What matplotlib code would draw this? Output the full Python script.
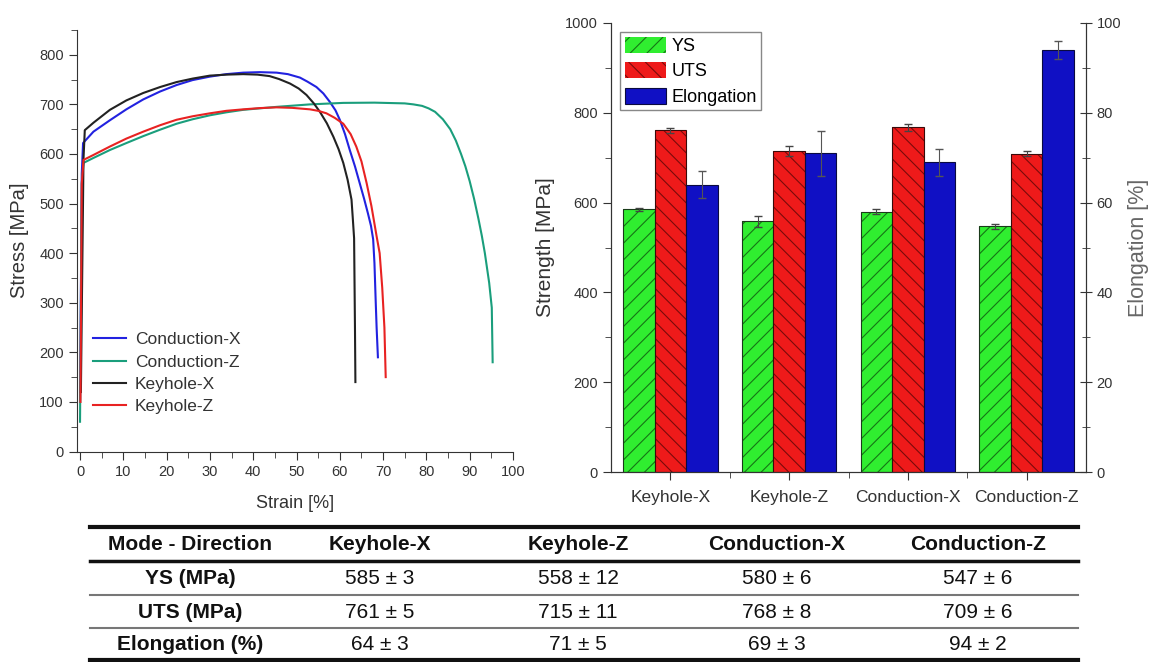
import numpy as np
import matplotlib.pyplot as plt
from matplotlib.lines import Line2D
from matplotlib.ticker import MultipleLocator, FixedLocator

plt.rcParams['font.family'] = ['Liberation Sans', 'DejaVu Sans']
plt.rcParams['hatch.linewidth'] = 0.8

# 应力-应变曲线
cx_strain = [0.0, 0.4, 0.7, 3.1, 6.9, 10.7, 14.6, 18.5, 22.3, 26, 30, 33.8, 37.7, 41.5, 45.4, 48, 50.8, 52.5,
             54.6, 56.2, 57.7, 59, 60, 61.2, 62.3, 63.5, 64.6, 65.6, 66.5, 67.2, 67.7, 68.0, 68.3, 68.5, 68.8]
cx_stress = [100, 560, 622, 645, 668, 690, 710, 726, 739, 749, 756, 761, 764, 765, 764, 761, 754, 746,
             735, 722, 705, 688, 669, 640, 608, 575, 541, 510, 480, 455, 428, 380, 300, 250, 190]

cz_strain = [0.0, 0.4, 0.8, 3.1, 6.9, 10.7, 14.6, 18.5, 22.3, 26, 30, 33.8, 37.7, 41.5, 45.4, 53.1, 60.8, 68,
             75, 77, 79, 80.5, 82, 83.8, 85.5, 86.8, 88, 89, 90, 91, 92, 92.8, 93.5, 94, 94.5, 94.8, 95.1, 95.3]
cz_stress = [60, 540, 582, 592, 608, 622, 636, 649, 661, 670, 678, 684, 689, 692, 695, 700, 703, 703.5,
             702, 700, 697, 692, 685, 670, 650, 627, 600, 575, 545, 510, 470, 435, 400, 370, 340, 315, 290, 180]

kx_strain = [0.2, 0.8, 1.1, 3.1, 6.9, 10.7, 14.6, 18.5, 22.3, 26, 30, 33.8, 37.7, 41, 43.8, 46, 48.5, 50.5,
             52.3, 54, 55.4, 57, 58.5, 59.7, 60.8, 61.8, 62.7, 63.0, 63.3, 63.5, 63.6]
kx_stress = [120, 590, 648, 663, 689, 708, 723, 735, 745, 752, 758, 760, 761, 760, 757, 751, 742, 732,
             719, 702, 685, 662, 635, 610, 582, 548, 508, 470, 430, 250, 140]

kz_strain = [0.1, 0.4, 0.8, 3.1, 6.9, 10.7, 14.6, 18.5, 22.3, 26, 30, 33.8, 37.7, 41.5, 45.4, 49, 53.1, 55,
             56.9, 58.8, 60.8, 62.5, 63.8, 65, 66.2, 67.3, 68.5, 69.2, 69.8, 70.3, 70.6]
kz_stress = [100, 540, 588, 598, 615, 631, 645, 658, 669, 676, 682, 687, 690, 692.5, 694, 693, 690, 687,
             682, 673, 661, 640, 615, 585, 541, 495, 434, 400, 330, 250, 150]

# 柱状图数据
categories = ['Keyhole-X', 'Keyhole-Z', 'Conduction-X', 'Conduction-Z']
ys = [585, 558, 580, 547]
ys_err = [3, 12, 6, 6]
uts = [761, 715, 768, 709]
uts_err = [5, 11, 8, 6]
elong = [64, 71, 69, 94]
elong_err = [3, 5, 3, 2]

# 表格
table_first_col = 'Mode - Direction'
row_names = ['YS (MPa)', 'UTS (MPa)', 'Elongation (%)']

W, H = 1150, 662
fig = plt.figure(figsize=(W / 100, H / 100), dpi=100)
txt = '#333333'

# ---------------- 左图：应力应变曲线 ----------------
ax1 = fig.add_axes([77 / W, 1 - 451.5 / H, 436 / W, 421.5 / H])
ax1.plot(cx_strain, cx_stress, color='#2222e0', lw=1.5, label='Conduction-X')
ax1.plot(cz_strain, cz_stress, color='#1a9e7c', lw=1.5, label='Conduction-Z')
ax1.plot(kx_strain, kx_stress, color='#222222', lw=1.5, label='Keyhole-X')
ax1.plot(kz_strain, kz_stress, color='#e82222', lw=1.5, label='Keyhole-Z')
ax1.set_xlim(-0.7, 100)
ax1.set_ylim(0, 850)
ax1.xaxis.set_major_locator(MultipleLocator(10))
ax1.xaxis.set_minor_locator(MultipleLocator(5))
ax1.yaxis.set_major_locator(FixedLocator(range(0, 801, 100)))
ax1.yaxis.set_minor_locator(FixedLocator(range(50, 851, 100)))
for s in ['top', 'right']:
    ax1.spines[s].set_visible(False)
for s in ['left', 'bottom']:
    ax1.spines[s].set_color(txt)
ax1.tick_params(which='major', direction='out', length=6, color=txt, labelcolor=txt, labelsize=10.5)
ax1.tick_params(which='minor', direction='out', length=4, color=txt)
ax1.set_xlabel('Strain [%]', fontsize=13, color=txt, labelpad=12)
ax1.set_ylabel('Stress [MPa]', fontsize=14.5, color=txt, labelpad=7)
ax1.legend(loc='upper left', bbox_to_anchor=(93 / W, 1 - 332 / H), bbox_transform=fig.transFigure,
           frameon=False, fontsize=12.5, handlelength=1.9, handletextpad=0.5, labelspacing=0.42,
           borderpad=0, borderaxespad=0, labelcolor=txt)

# ---------------- 右图：强度/延伸率柱状图 ----------------
ax2 = fig.add_axes([611 / W, 1 - 472 / H, 475 / W, 449 / H])
ax3 = ax2.twinx()
x = np.arange(len(categories))
bw = 0.265

ax2.bar(x - bw, ys, bw, color='#30ee30', edgecolor='#157515', hatch='//', linewidth=0, label='YS')
ax2.bar(x - bw, ys, bw, fill=False, edgecolor='#1a3a1a', linewidth=0.8)
ax2.errorbar(x - bw, ys, yerr=ys_err, fmt='none', ecolor='#444444', elinewidth=0.8, capsize=3)
ax2.bar(x, uts, bw, color='#ee1a1a', edgecolor='#7a0a0a', hatch='\\\\', linewidth=0, label='UTS')
ax2.bar(x, uts, bw, fill=False, edgecolor='#3a0a0a', linewidth=0.8)
ax2.errorbar(x, uts, yerr=uts_err, fmt='none', ecolor='#444444', elinewidth=0.8, capsize=3)
ax3.bar(x + bw, elong, bw, color='#1010c4', edgecolor='#0a0a40', linewidth=0.8, label='Elongation')
ax3.errorbar(x + bw, elong, yerr=elong_err, fmt='none', ecolor='#555555', elinewidth=0.8, capsize=3)

ax2.set_xlim(-0.5, 3.5)
ax2.set_ylim(0, 1000)
ax3.set_ylim(0, 100)
ax2.set_xticks(x)
ax2.set_xticklabels(categories)
ax2.xaxis.set_minor_locator(FixedLocator([0.5, 1.5, 2.5]))
ax2.yaxis.set_major_locator(MultipleLocator(200))
ax2.yaxis.set_minor_locator(MultipleLocator(100))
ax3.yaxis.set_major_locator(MultipleLocator(20))
ax3.yaxis.set_minor_locator(MultipleLocator(10))
for a in (ax2, ax3):
    a.spines['top'].set_visible(False)
    for s in ['left', 'right', 'bottom']:
        a.spines[s].set_color(txt)
ax2.tick_params(axis='y', which='major', direction='out', length=6, color=txt, labelcolor=txt, labelsize=10.5)
ax2.tick_params(axis='y', which='minor', direction='out', length=4, color=txt)
ax2.tick_params(axis='x', which='major', direction='out', length=6, color=txt, labelcolor=txt,
                labelsize=12.5, pad=7)
ax2.tick_params(axis='x', which='minor', direction='out', length=4, color=txt)
ax3.tick_params(axis='y', which='major', direction='inout', length=8, color=txt, labelcolor=txt, labelsize=10.5)
ax3.tick_params(axis='y', which='minor', direction='inout', length=6, color=txt)
ax2.set_ylabel('Strength [MPa]', fontsize=15, color=txt, labelpad=7)
ax3.set_ylabel('Elongation [%]', fontsize=15.5, color='#666666', labelpad=5)

handles = [ax2.patches[0], ax2.patches[8], ax3.patches[0]]
ax3.legend(handles, ['YS', 'UTS', 'Elongation'], loc='upper left', fontsize=13, fancybox=False,
           edgecolor='#888888', framealpha=1, handlelength=2.3, handleheight=1.0, handletextpad=0.3,
           labelspacing=0.4, borderpad=0.25, borderaxespad=0.5)

# ---------------- 下方表格 ----------------
axt = fig.add_axes([0, 0, 1, 1], zorder=-1)
axt.set_xlim(0, W)
axt.set_ylim(H, 0)
axt.axis('off')
col_x = [190, 380, 578, 777, 978]
row_y = [578, 612, 645]
x0, x1 = 90, 1078
axt.add_line(Line2D([x0, x1], [527, 527], color='#111111', lw=3))
axt.add_line(Line2D([x0, x1], [561, 561], color='#111111', lw=2.5))
axt.add_line(Line2D([x0, x1], [595, 595], color='#777777', lw=1.5))
axt.add_line(Line2D([x0, x1], [628, 628], color='#777777', lw=1.5))
axt.add_line(Line2D([x0, x1], [660, 660], color='#111111', lw=3))

header = [table_first_col] + categories
for cx, h in zip(col_x, header):
    axt.text(cx, 545, h, ha='center', va='center', fontsize=15, fontweight='bold', color='#111111')
rows = [(ys, ys_err), (uts, uts_err), (elong, elong_err)]
for ry, name, (vals, errs) in zip(row_y, row_names, rows):
    axt.text(col_x[0], ry, name, ha='center', va='center', fontsize=15, fontweight='bold', color='#111111')
    for cx, v, e in zip(col_x[1:], vals, errs):
        axt.text(cx, ry, f'{v} ± {e}', ha='center', va='center', fontsize=15, color='#111111')

fig.savefig('out.png', dpi=100)
